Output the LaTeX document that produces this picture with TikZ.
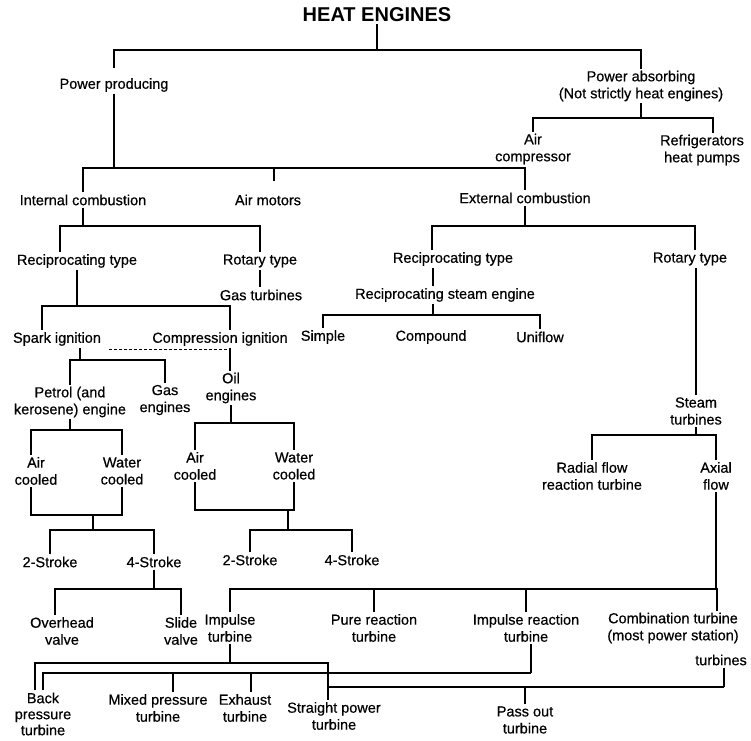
\documentclass[tikz,border=0pt]{standalone}
\usepackage{fontspec}
\setmainfont{Liberation Sans}
\newfontfamily\scanfont{Liberation Sans}[FakeBold=0.5]
\usetikzlibrary{positioning,calc}
\tikzset{
  lbl/.style={align=center,inner sep=2pt,font=\scanfont\fontsize{14.5}{17}\selectfont},
  headbox/.style={inner sep=2pt,font=\fontsize{20}{24}\selectfont\bfseries},
  link/.style={line width=1.6pt},
  dashlink/.style={line width=1pt,dash pattern=on 3pt off 2pt}
}

\begin{document}
\begin{tikzpicture}[x=1pt,y=-1pt]
  \useasboundingbox (0,0) rectangle (751,740);
  \node[headbox] (he) at (377,15) {HEAT ENGINES};
  \node[lbl] (pp) at (114,85) {Power producing};
  \node[lbl] (pa) at (641,86) {Power absorbing\\(Not strictly heat engines)};
  \node[lbl] (ac) at (533,149) {Air\\compressor};
  \node[lbl] (rf) at (702,150) {Refrigerators\\heat pumps};
  \node[lbl] (ic) at (83,200) {Internal combustion};
  \node[lbl] (am) at (268,200) {Air motors};
  \node[lbl] (ec) at (525,198) {External combustion};
  \node[lbl] (rti) at (77,261) {Reciprocating type};
  \node[lbl] (roi) at (260,261) {Rotary type};
  \node[lbl] (gt) at (261,295) {Gas turbines};
  \node[lbl] (rte) at (453,259) {Reciprocating type};
  \node[lbl] (roe) at (690,259) {Rotary type};
  \node[lbl] (rse) at (445,295) {Reciprocating steam engine};
  \node[lbl] (simple) at (323,337) {Simple};
  \node[lbl] (compound) at (431,337) {Compound};
  \node[lbl] (uniflow) at (540,337) {Uniflow};
  \node[lbl] (si) at (57,339) {Spark ignition};
  \node[lbl] (ci) at (220,339) {Compression ignition};
  \node[lbl] (petrol) at (70,402) {Petrol (and\\kerosene) engine};
  \node[lbl] (gas) at (165,400) {Gas\\engines};
  \node[lbl] (oil) at (231,388) {Oil\\engines};
  \node[lbl] (acp) at (36,471) {Air\\cooled};
  \node[lbl] (wcp) at (122,471) {Water\\cooled};
  \node[lbl] (aco) at (195,466) {Air\\cooled};
  \node[lbl] (wco) at (294,466) {Water\\cooled};
  \node[lbl] (st) at (696,411) {Steam\\turbines};
  \node[lbl] (radial) at (592,476) {Radial flow\\reaction turbine};
  \node[lbl] (axial) at (716,476) {Axial\\flow};
  \node[lbl] (s2p) at (50,562) {2-Stroke};
  \node[lbl] (s4p) at (154,562) {4-Stroke};
  \node[lbl] (s2o) at (250,560) {2-Stroke};
  \node[lbl] (s4o) at (352,560) {4-Stroke};
  \node[lbl] (ohv) at (62,631) {Overhead\\valve};
  \node[lbl] (slide) at (181,631) {Slide\\valve};
  \node[lbl] (imp) at (230,628) {Impulse\\turbine};
  \node[lbl] (pure) at (374,628) {Pure reaction\\turbine};
  \node[lbl] (impr) at (526,628) {Impulse reaction\\turbine};
  \node[lbl] (comb) at (673,628) {Combination turbine\\(most power station)};
  \node[lbl] (turbs) at (721,660) {turbines};
  \node[lbl,font=\scanfont\fontsize{14.5}{16}\selectfont] (back) at (43,714) {Back\\pressure\\turbine};
  \node[lbl] (mixed) at (158,708) {Mixed pressure\\turbine};
  \node[lbl] (exh) at (245,708) {Exhaust\\turbine};
  \node[lbl] (straight) at (334,716) {Straight power\\turbine};
  \node[lbl] (passout) at (525,720) {Pass out\\turbine};

  \coordinate (bTop) at (0,50);
  \coordinate (bAbs) at (0,118);
  \coordinate (bProd) at (0,168);
  \coordinate (bType) at (0,226);
  \coordinate (bRecI) at (0,306);
  \coordinate (bSpark) at (0,360);
  \coordinate (bPetrol) at (0,430);
  \coordinate (bOil) at (0,423);
  \coordinate (jPetrol) at (93,515);
  \coordinate (jOil) at (288,510);
  \coordinate (bStroke) at (0,530);
  \coordinate (bValve) at (0,589);
  \coordinate (bSteamEng) at (0,315);
  \coordinate (bSteam) at (0,435);
  \coordinate (bTurb) at (0,589);
  \coordinate (bImp) at (0,663);
  \coordinate (bImpR) at (0,673);
  \coordinate (bComb) at (0,687);

  \coordinate (ppTop) at ([yshift=8pt]pp.north);
  \coordinate (rfTop) at ([xshift=11pt]rf.north);
  \coordinate (amTop) at ([xshift=6pt,yshift=11pt]am.north);
  \coordinate (rtiTop) at ([xshift=-17pt]rti.north);
  \coordinate (siTop) at ([xshift=-15pt]si.north);
  \coordinate (siBot) at ([xshift=23pt]si.south);
  \coordinate (siDash) at ([xshift=6pt,yshift=-2pt]si.south east);
  \coordinate (ciTop) at ([xshift=10pt]ci.north);
  \coordinate (ciBot) at ([xshift=10pt]ci.south);
  \coordinate (acpTop) at ([xshift=-5pt]acp.north);
  \coordinate (acpBot) at ([xshift=-5pt]acp.south);
  \coordinate (ohvTop) at ([xshift=-7pt]ohv.north);
  \coordinate (rteTop) at ([xshift=-21pt]rte.north);
  \coordinate (rteBot) at ([xshift=-20pt]rte.south);
  \coordinate (rseBot) at ([xshift=-12pt]rse.south);
  \coordinate (roeTop) at ([xshift=5pt]roe.north);
  \coordinate (roeBot) at ([xshift=6pt]roe.south);
  \coordinate (combTop) at ([xshift=44pt]comb.north);
  \coordinate (backTop) at ([xshift=-8pt]back.north);
  \coordinate (mixTop) at ([xshift=15pt]mixed.north);
  \coordinate (exhTop) at ([xshift=6pt]exh.north);
  \coordinate (strTop) at ([xshift=-6pt]straight.north);
  \coordinate (imprBot) at ([xshift=5pt]impr.south);
  \coordinate (turbsBot) at ([xshift=3pt]turbs.south);

  \draw[link] (he.south) -- (he.south |- bTop);
  \draw[link] (ppTop) |- (bTop -| pa.north) -- (pa.north);
  \draw[link] (pa.south) -- (pa.south |- bAbs);
  \draw[link] (ac.north) |- (bAbs -| rfTop) -- (rfTop);
  \draw[link] (pp.south) -- (pp.south |- bProd);
  \draw[link] (ic.north) |- (bProd -| ec.north) -- (ec.north);
  \draw[link] (amTop) -- (amTop |- bProd);

  \draw[link] (ic.south) -- (ic.south |- bType);
  \draw[link] (rtiTop) |- (bType -| roi.north) -- (roi.north);
  \draw[link] (roi.south) -- (roi.south |- gt.north);
  \draw[link] (rti.south) -- (rti.south |- bRecI);
  \draw[link] (siTop) |- (bRecI -| ciTop) -- (ciTop);
  \draw[dashlink] (siDash) -- (siDash -| ciBot);
  \draw[link] (ciBot) -- (ciBot |- oil.north);
  \draw[link] (siBot) -- (siBot |- bSpark);
  \draw[link] (petrol.north) |- (bSpark -| gas.north) -- (gas.north);
  \draw[link] (petrol.south) -- (petrol.south |- bPetrol);
  \draw[link] (acpTop) |- (bPetrol -| wcp.north) -- (wcp.north);
  \draw[link] (oil.south) -- (oil.south |- bOil);
  \draw[link] (aco.north) |- (bOil -| wco.north) -- (wco.north);
  \draw[link] (acpBot) |- (jPetrol -| wcp.south) -- (wcp.south);
  \draw[link] (jPetrol) -- (jPetrol |- bStroke);
  \draw[link] (s2p.north) |- (bStroke -| s4p.north) -- (s4p.north);
  \draw[link] (aco.south) |- (jOil -| wco.south) -- (wco.south);
  \draw[link] (jOil) -- (jOil |- bStroke);
  \draw[link] (s2o.north) |- (bStroke -| s4o.north) -- (s4o.north);
  \draw[link] (s4p.south) -- (s4p.south |- bValve);
  \draw[link] (ohvTop) |- (bValve -| slide.north) -- (slide.north);

  \draw[link] (ec.south) -- (ec.south |- bType);
  \draw[link] (rteTop) |- (bType -| roeTop) -- (roeTop);
  \draw[link] (rteBot) -- (rteBot |- rse.north);
  \draw[link] (rseBot) -- (rseBot |- bSteamEng);
  \draw[link] (simple.north) |- (bSteamEng -| uniflow.north) -- (uniflow.north);
  \draw[link] (roeBot) -- (roeBot |- st.north);
  \draw[link] (st.south) -- (st.south |- bSteam);
  \draw[link] (radial.north) |- (bSteam -| axial.north) -- (axial.north);
  \draw[link] (axial.south) -- (axial.south |- bTurb);
  \draw[link] (imp.north) |- (bTurb -| combTop) -- (combTop);
  \draw[link] (pure.north) -- (pure.north |- bTurb);
  \draw[link] (impr.north) -- (impr.north |- bTurb);

  \draw[link] (imp.south) -- (imp.south |- bImp);
  \draw[link] (backTop) |- (bImp -| strTop) -- (strTop);
  \draw[link] (imprBot) -- (imprBot |- bImpR);
  \draw[link] (back.north) |- (bImpR -| imprBot);
  \draw[link] (mixTop) -- (mixTop |- bImpR);
  \draw[link] (exhTop) -- (exhTop |- bImpR);
  \draw[link] (turbsBot) -- (turbsBot |- bComb);
  \draw[link] (strTop |- bComb) -- (turbsBot |- bComb);
  \draw[link] (passout.north) -- (passout.north |- bComb);
\end{tikzpicture}
\end{document}
